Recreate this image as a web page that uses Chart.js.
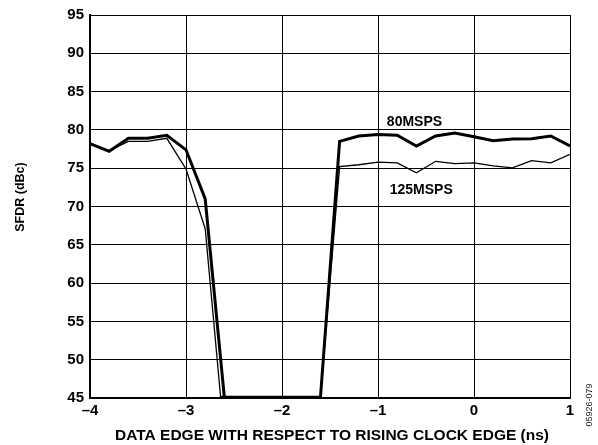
<!DOCTYPE html>
<html>
<head>
<meta charset="utf-8">
<style>
  html, body { margin: 0; padding: 0; background: #fff; }
  #wrap { width: 598px; height: 445px; position: relative; }
</style>
</head>
<body>
<div id="wrap">
  <canvas id="sfdrChart" width="598" height="445"></canvas>
</div>
<script src="https://cdn.jsdelivr.net/npm/chart.js"></script>
<script>
// data (ns, dBc)
var x80 = [-4.0, -3.8, -3.6, -3.4, -3.2, -3.0, -2.8, -2.6, -2.4, -2.2, -2.0, -1.8, -1.6, -1.4, -1.2, -1.0, -0.8, -0.6, -0.4, -0.2, 0.0, 0.2, 0.4, 0.6, 0.8, 1.0];
var sfdr80 = [78.2, 77.2, 78.9, 78.9, 79.3, 77.4, 71.0, 45.0, 45.0, 45.0, 45.0, 45.0, 45.0, 78.5, 79.2, 79.4, 79.3, 77.9, 79.2, 79.6, 79.1, 78.6, 78.8, 78.85, 79.2, 77.9];

var x125 = [-4.0, -3.8, -3.6, -3.4, -3.2, -3.0, -2.8, -2.64, -1.6, -1.4, -1.2, -1.0, -0.8, -0.6, -0.4, -0.2, 0.0, 0.2, 0.4, 0.6, 0.8, 1.0];
var sfdr125 = [78.2, 77.3, 78.5, 78.5, 78.9, 74.9, 67.1, 45.2, 45.2, 75.2, 75.45, 75.8, 75.7, 74.4, 75.9, 75.6, 75.7, 75.3, 75.05, 76.0, 75.7, 76.8];

var xTicks = [-4, -3, -2, -1, 0, 1];
var yTicks = [45, 50, 55, 60, 65, 70, 75, 80, 85, 90, 95];

var seriesLabels = [
  { text: '80MSPS', x: -0.62, y: 81.0 },
  { text: '125MSPS', x: -0.55, y: 72.2 }
];

function toPoints(xs, ys) {
  return xs.map(function(v, i) { return { x: v, y: ys[i] }; });
}

var fam = '"Liberation Sans", Arial, sans-serif';

var extraText = {
  id: 'extraText',
  afterDraw: function(chart) {
    var ctx = chart.ctx;
    var xs = chart.scales.x, ys = chart.scales.y;
    ctx.save();
    ctx.font = 'bold 14px ' + fam;
    ctx.textAlign = 'center';
    ctx.textBaseline = 'middle';
    seriesLabels.forEach(function(l) {
      var px = xs.getPixelForValue(l.x), py = ys.getPixelForValue(l.y);
      var w = ctx.measureText(l.text).width;
      ctx.fillStyle = '#fff';
      ctx.fillRect(px - w / 2 - 1, py - 6, w + 2, 12);
      ctx.fillStyle = '#000';
      ctx.fillText(l.text, px, py);
    });
    // axis titles
    ctx.fillStyle = '#000';
    ctx.font = 'bold 15.5px ' + fam;
    ctx.fillText('DATA EDGE WITH RESPECT TO RISING CLOCK EDGE (ns)', 332, 436);
    ctx.save();
    ctx.translate(21, 197);
    ctx.rotate(-Math.PI / 2);
    ctx.font = 'bold 12.5px ' + fam;
    ctx.fillText('SFDR (dBc)', 0, 0);
    ctx.restore();
    // figure id
    ctx.save();
    ctx.translate(590, 405);
    ctx.rotate(-Math.PI / 2);
    ctx.font = '9px ' + fam;
    ctx.fillStyle = '#222';
    ctx.fillText('05926-079', 0, 0);
    ctx.restore();
    ctx.restore();
  }
};

var ctx = document.getElementById('sfdrChart').getContext('2d');
var sfdrChart = new Chart(ctx, {
  type: 'scatter',
  data: {
    datasets: [{
      label: '80MSPS',
      data: toPoints(x80, sfdr80),
      showLine: true,
      borderColor: '#000',
      borderWidth: 3,
      pointRadius: 0,
      tension: 0
    }, {
      label: '125MSPS',
      data: toPoints(x125, sfdr125),
      showLine: true,
      borderColor: '#000',
      borderWidth: 1.3,
      pointRadius: 0,
      tension: 0
    }]
  },
  options: {
    responsive: false,
    animation: false,
    layout: { padding: { left: 0, right: 28, top: 15, bottom: 0 } },
    plugins: {
      legend: { display: false },
      tooltip: { enabled: false }
    },
    scales: {
      x: {
        type: 'linear',
        min: -4,
        max: 1,
        afterBuildTicks: function(scale) {
          scale.ticks = xTicks.map(function(v) { return { value: v }; });
        },
        afterFit: function(scale) { scale.height = 47; },
        grid: { color: '#000', lineWidth: 1, drawTicks: false },
        border: { color: '#000', width: 2 },
        ticks: {
          color: '#000',
          padding: 4,
          font: { family: fam, size: 15, weight: 'bold' },
          callback: function(v) { return v < 0 ? '\u2013' + Math.abs(v) : String(v); }
        }
      },
      y: {
        type: 'linear',
        min: 45,
        max: 95,
        afterBuildTicks: function(scale) {
          scale.ticks = yTicks.map(function(v) { return { value: v }; });
        },
        afterFit: function(scale) { scale.width = 90; },
        grid: { color: '#000', lineWidth: 1, drawTicks: false },
        border: { color: '#000', width: 2 },
        ticks: {
          color: '#000',
          padding: 6,
          font: { family: fam, size: 15, weight: 'bold' }
        }
      }
    }
  },
  plugins: [extraText]
});
</script>
</body>
</html>
